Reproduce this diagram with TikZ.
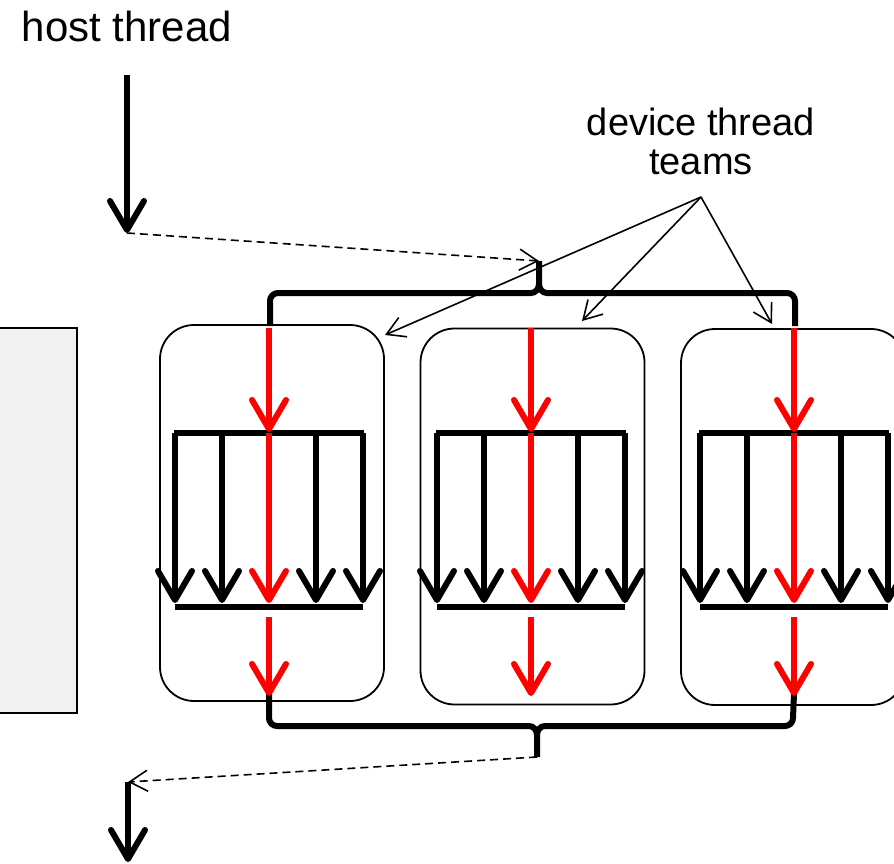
\documentclass[tikz,border=0pt]{standalone}
\usepackage{fontspec}
\setmainfont{Liberation Sans}
\usetikzlibrary{arrows.meta}
\begin{document}
\begin{tikzpicture}[x=1pt, y=-1pt, font=\fontsize{38}{39.5}\selectfont]
        \tikzstyle{team}=[draw, line width=1.8pt, rounded corners=34pt, minimum width=224pt, minimum height=376pt, inner sep=0pt]
        \tikzstyle{flow}=[line width=6pt, -{Straight Barb[length=29pt, width=34pt, round]}]
        \tikzstyle{redflow}=[flow, red]
        \tikzstyle{bar}=[line width=6pt]
        \tikzstyle{brace}=[line width=6pt]
        \tikzstyle{hint}=[line width=1.6pt, -{Straight Barb[length=18pt, width=21pt]}]

        \useasboundingbox (0,0) rectangle (894,864);
        \clip (0,0) rectangle (894,864);

        % labels
        \node[anchor=base, font=\fontsize{42}{44}\selectfont] (host) at (127,42) {host thread};
        \node[anchor=base, align=center] (teams) at (701,175) {device thread\\teams};

        % host side
        \draw[line width=1.6pt, fill=black!5] (-10,328) rectangle (77,713);
        \coordinate (h0) at (127,75); \coordinate (h1) at (127,233);
        \coordinate (h2) at (128,782); \coordinate (h3) at (128,862);
        \draw[flow] (h0) -- (h1);
        \draw[flow] (h2) -- (h3);

        % team boxes
        \node[team] (box1) at (272,513) {};
        \node[team] (box2) at (532.5,516.5) {};
        \node[team] (box3) at (793,517) {};

        % braces
        \coordinate (topTip) at (539,261);
        \coordinate (botTip) at (537,757);
        \draw[brace] (270,326) -- (270,301) to[out=90,in=180] (278,293) -- (531,293) to[out=0,in=-90] (539,284) -- (topTip);
        \draw[brace] (795,326) -- (795,301) to[out=90,in=0] (787,293) -- (547,293) to[out=180,in=-90] (539,284);
        \draw[brace] (269,694) -- (269,718) to[out=-90,in=180] (277,726) -- (529,726) to[out=0,in=90] (537,735) -- (botTip);
        \draw[brace] (794,694) -- (793,718) to[out=-90,in=0] (785,726) -- (545,726) to[out=180,in=90] (537,735);

        % threads inside each team
        \foreach \i/\x in {1/269, 2/531, 3/794} {
            \coordinate (in\i) at (\x,328);
            \coordinate (fork\i) at (\x,433);
            \coordinate (tip\i) at (\x,603);
            \coordinate (join\i) at (\x,607);
            \coordinate (out\i) at (\x,617);
            \coordinate (end\i) at (\x,696);
            \foreach \d in {-94,-47,47,94}
                \draw[flow] ([xshift=\d pt]fork\i) -- ([xshift=\d pt]tip\i);
            \draw[bar] ([xshift=-95pt]fork\i) -- ([xshift=95pt]fork\i);
            \draw[bar] ([xshift=-94pt]join\i) -- ([xshift=94pt]join\i);
            \draw[redflow] (in\i) -- ([yshift=1pt]fork\i);
            \draw[redflow] (fork\i) -- (tip\i);
            \draw[redflow] (out\i) -- (end\i);
        }

        % host <-> device hand-over
        \draw[hint, dash pattern=on 8pt off 5pt] (h1) -- (topTip);
        \draw[hint, dash pattern=on 8pt off 5pt] (botTip) -- (h2);

        % team call-outs
        \coordinate (callout) at (701,197);
        \coordinate (c1) at (385,335);
        \coordinate (c2) at (582,321);
        \coordinate (c3) at (772,324);
        \foreach \c in {c1,c2,c3}
            \draw[hint] (callout) -- (\c);
\end{tikzpicture}
\end{document}
